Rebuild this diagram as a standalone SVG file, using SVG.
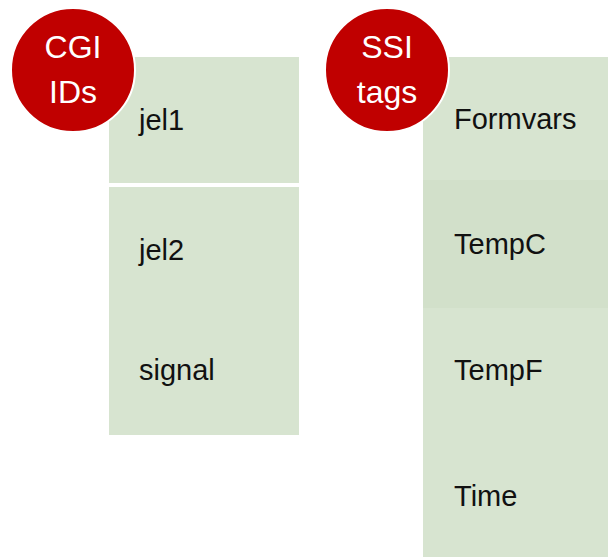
<svg xmlns="http://www.w3.org/2000/svg" width="608" height="557" viewBox="0 0 608 557">
<style>
.box{fill:#d7e4d0}
.dark{fill:#d2e0ca}
.lbl{font-family:"Liberation Sans",Arial,sans-serif;font-size:29px;fill:#111}
.badge{fill:#c00000;stroke:#fff;stroke-width:2}
.bt{font-family:"Liberation Sans",Arial,sans-serif;font-size:32px;fill:#fff;text-anchor:middle}
</style>
<rect width="608" height="557" fill="#fff"/>
<g id="jel1"><rect class="box" x="109" y="57" width="190" height="126"/><text class="lbl" x="139" y="130">jel1</text></g>
<g id="jel2"><rect class="box" x="109" y="187" width="190" height="120"/><text class="lbl" x="139" y="260">jel2</text></g>
<g id="signal"><rect class="box" x="109" y="307" width="190" height="128"/><text class="lbl" x="139" y="380">signal</text></g>
<g id="formvars"><rect class="box" x="423" y="57" width="185" height="123"/><text class="lbl" x="454" y="129">Formvars</text></g>
<g id="tempc"><rect class="dark" x="423" y="180" width="185" height="128"/><text class="lbl" x="454" y="254">TempC</text></g>
<g id="tempf"><rect class="box" x="423" y="308" width="185" height="124"/><text class="lbl" x="454" y="380">TempF</text></g>
<g id="time"><rect class="box" x="423" y="432" width="185" height="125"/><text class="lbl" x="454" y="506">Time</text></g>
<g id="cgi-ids"><circle class="badge" cx="73" cy="70" r="62"/><text class="bt" x="73" y="58">CGI</text><text class="bt" x="73" y="103">IDs</text></g>
<g id="ssi-tags"><circle class="badge" cx="387" cy="70" r="62"/><text class="bt" x="387" y="58">SSI</text><text class="bt" x="387" y="103">tags</text></g>
<g id="connectors"/>
</svg>
